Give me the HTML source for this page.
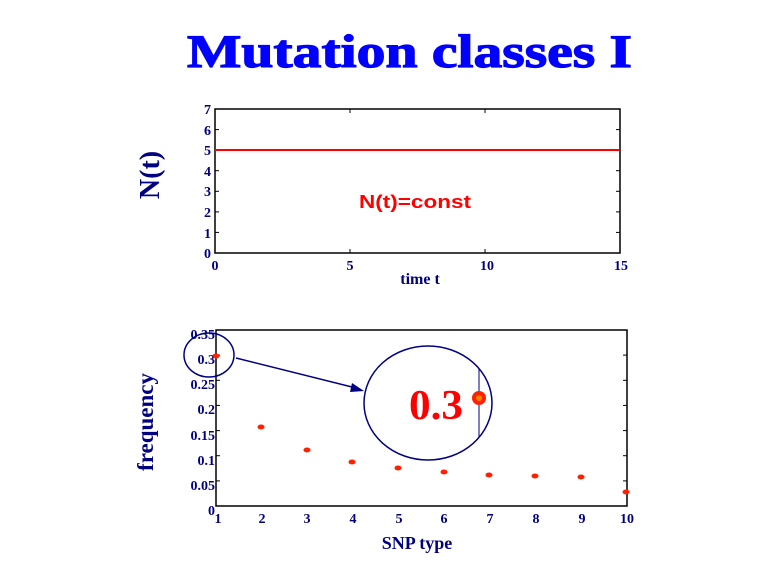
<!DOCTYPE html>
<html><head><style>body{margin:0;background:#fff}svg{display:block}</style></head><body>
<svg width="768" height="576" xmlns="http://www.w3.org/2000/svg" font-family="Liberation Serif, serif" font-weight="bold">
<text x="187" y="67" font-size="47" fill="#0000ff" stroke="#0000ff" stroke-width="1.2" textLength="445" lengthAdjust="spacingAndGlyphs">Mutation classes I</text>
<!-- top plot -->
<rect x="215" y="109" width="405" height="144" fill="none" stroke="#000" stroke-width="1.5"/>
<g stroke="#000" stroke-width="1">
<line x1="215" y1="129.6" x2="219" y2="129.6"/><line x1="215" y1="150.1" x2="219" y2="150.1"/><line x1="215" y1="170.7" x2="219" y2="170.7"/><line x1="215" y1="191.3" x2="219" y2="191.3"/><line x1="215" y1="211.9" x2="219" y2="211.9"/><line x1="215" y1="232.4" x2="219" y2="232.4"/>
<line x1="620" y1="129.6" x2="616" y2="129.6"/><line x1="620" y1="150.1" x2="616" y2="150.1"/><line x1="620" y1="170.7" x2="616" y2="170.7"/><line x1="620" y1="191.3" x2="616" y2="191.3"/><line x1="620" y1="211.9" x2="616" y2="211.9"/><line x1="620" y1="232.4" x2="616" y2="232.4"/>
<line x1="350" y1="253" x2="350" y2="249"/><line x1="485" y1="253" x2="485" y2="249"/><line x1="350" y1="109" x2="350" y2="113"/><line x1="485" y1="109" x2="485" y2="113"/>
</g>
<line x1="215" y1="150" x2="620" y2="150" stroke="#ff0000" stroke-width="2"/>
<g fill="#000080" font-size="14" text-anchor="end">
<text x="211" y="114">7</text><text x="211" y="135">6</text><text x="211" y="155">5</text><text x="211" y="176">4</text><text x="211" y="196">3</text><text x="211" y="217">2</text><text x="211" y="238">1</text><text x="211" y="258">0</text>
</g>
<g fill="#000080" font-size="14" text-anchor="middle">
<text x="215" y="270">0</text><text x="350" y="270">5</text><text x="487" y="270">10</text><text x="621" y="270">15</text>
<text x="420" y="284" font-size="16">time t</text>
</g>
<text x="359" y="208" fill="#ff0000" font-family="Liberation Sans, sans-serif" font-size="18" textLength="112" lengthAdjust="spacingAndGlyphs">N(t)=const</text>
<text transform="translate(159,175) rotate(-90)" fill="#000080" font-size="28" text-anchor="middle">N(t)</text>
<!-- bottom plot -->
<rect x="216" y="330" width="411" height="176" fill="none" stroke="#000" stroke-width="1.5"/>
<g stroke="#000" stroke-width="1">
<line x1="216" y1="355.1" x2="220" y2="355.1"/><line x1="216" y1="380.3" x2="220" y2="380.3"/><line x1="216" y1="405.4" x2="220" y2="405.4"/><line x1="216" y1="430.6" x2="220" y2="430.6"/><line x1="216" y1="455.7" x2="220" y2="455.7"/><line x1="216" y1="480.9" x2="220" y2="480.9"/>
<line x1="627" y1="355.1" x2="623" y2="355.1"/><line x1="627" y1="380.3" x2="623" y2="380.3"/><line x1="627" y1="405.4" x2="623" y2="405.4"/><line x1="627" y1="430.6" x2="623" y2="430.6"/><line x1="627" y1="455.7" x2="623" y2="455.7"/><line x1="627" y1="480.9" x2="623" y2="480.9"/>
</g>
<g fill="#000080" font-size="14" text-anchor="end">
<text x="215" y="339">0.35</text><text x="215" y="364">0.3</text><text x="215" y="389">0.25</text><text x="215" y="414">0.2</text><text x="215" y="440">0.15</text><text x="215" y="465">0.1</text><text x="215" y="490">0.05</text><text x="215" y="515">0</text>
</g>
<g fill="#000080" font-size="14" text-anchor="middle">
<text x="218" y="523">1</text><text x="262" y="523">2</text><text x="307" y="523">3</text><text x="353" y="523">4</text><text x="399" y="523">5</text><text x="444" y="523">6</text><text x="490" y="523">7</text><text x="536" y="523">8</text><text x="582" y="523">9</text><text x="627" y="523">10</text>
<text x="417" y="549" font-size="18">SNP type</text>
</g>
<text transform="translate(153,422) rotate(-90)" fill="#000080" font-size="23" text-anchor="middle">frequency</text>
<g fill="#ff2000">
<ellipse cx="216" cy="356" rx="3.5" ry="2.5"/><ellipse cx="261" cy="427" rx="3.5" ry="2.5"/><ellipse cx="307" cy="450" rx="3.5" ry="2.5"/><ellipse cx="352" cy="462" rx="3.5" ry="2.5"/><ellipse cx="398" cy="468" rx="3.5" ry="2.5"/><ellipse cx="444" cy="472" rx="3.5" ry="2.5"/><ellipse cx="489" cy="475" rx="3.5" ry="2.5"/><ellipse cx="535" cy="476" rx="3.5" ry="2.5"/><ellipse cx="581" cy="477" rx="3.5" ry="2.5"/><ellipse cx="626" cy="492" rx="3.5" ry="2.5"/>
</g>
<g fill="none" stroke="#000080" stroke-width="1.5">
<ellipse cx="209" cy="355" rx="25" ry="22"/>
<ellipse cx="428" cy="403" rx="64" ry="57"/>
<line x1="236" y1="358" x2="356" y2="388"/>
</g>
<polygon points="364,391 352,383 350,392" fill="#000080"/>
<line x1="479" y1="369" x2="479" y2="437" stroke="#000080" stroke-width="1"/>
<circle cx="479" cy="398" r="7" fill="#ff2000"/><circle cx="479" cy="398" r="3" fill="#ff8000"/>
<text x="409" y="419" fill="#ff0000" font-size="42" textLength="54" lengthAdjust="spacingAndGlyphs">0.3</text>
</svg>
</body></html>
